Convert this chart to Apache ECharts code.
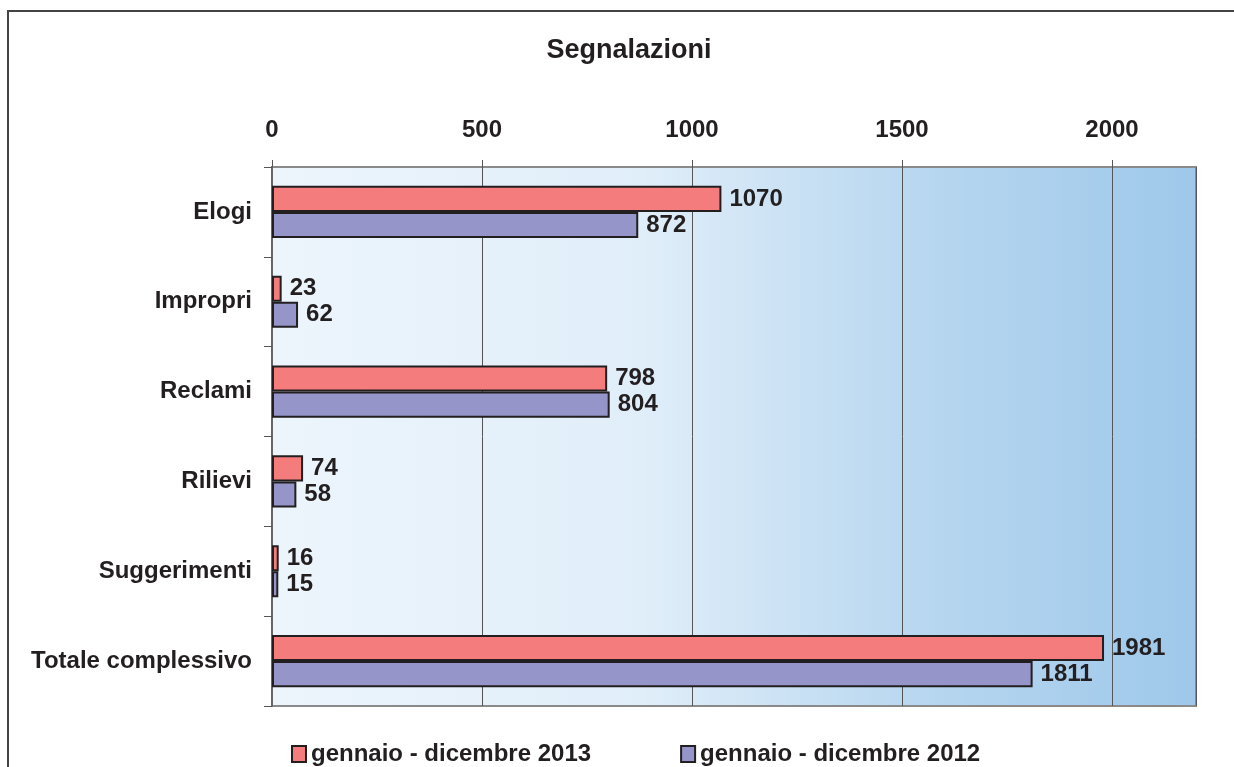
<!DOCTYPE html>
<html>
<head>
<meta charset="utf-8">
<script src="https://cdn.jsdelivr.net/npm/echarts@6/dist/echarts.min.js"></script>
<style>
  html, body { margin: 0; padding: 0; background: #fff; }
  #chart { width: 1234px; height: 767px; }
</style>
</head>
<body>
<div id="chart"></div>
<script>
// dati
var categorie = ["Elogi", "Impropri", "Reclami", "Rilievi", "Suggerimenti", "Totale complessivo"];
var serie2013 = [1070, 23, 798, 74, 16, 1981];
var serie2012 = [872, 62, 804, 58, 15, 1811];
var nomeSerie = ["gennaio - dicembre 2013", "gennaio - dicembre 2012"];

var chart = echarts.init(document.getElementById("chart"));

var labelStyle = {
  show: true,
  position: "right",
  distance: 8,
  color: "#231f20",
  fontFamily: "Liberation Sans, Arial, sans-serif",
  fontWeight: "bold",
  fontSize: 24,
};

var option = {
  animation: false,
  backgroundColor: "#fff",
  textStyle: { fontFamily: "Liberation Sans, Arial, sans-serif" },
  title: {
    text: "Segnalazioni",
    left: 624,
    top: 32,
    textAlign: "center",
    textStyle: {
      fontFamily: "Liberation Sans, Arial, sans-serif",
      fontSize: 27,
      fontWeight: "bold",
      color: "#231f20",
    },
  },
  graphic: [
    {
      type: "polyline",
      shape: { points: [[8, 767], [8, 11], [1234, 11]] },
      style: { stroke: "#444", lineWidth: 2, fill: null },
      silent: true,
    },
  ],
  legend: {
    left: 286,
    top: 737,
    itemWidth: 14,
    itemHeight: 16,
    itemGap: 89,
    icon: "rect",
    data: nomeSerie,
    textStyle: {
      fontFamily: "Liberation Sans, Arial, sans-serif",
      fontSize: 24,
      fontWeight: "bold",
      color: "#231f20",
    },
  },
  grid: {
    left: 272,
    right: 38,
    top: 167,
    bottom: 61,
    show: true,
    borderColor: "#8a8a8a",
    borderWidth: 2,
    backgroundColor: new echarts.graphic.LinearGradient(0, 0, 1, 0, [
      { offset: 0, color: "#edf5fc" },
      { offset: 0.4, color: "#e0eef9" },
      { offset: 0.7, color: "#b8d7f0" },
      { offset: 1, color: "#9ec8ea" },
    ]),
  },
  xAxis: {
    type: "value",
    position: "top",
    min: 0,
    max: 2200,
    interval: 500,
    axisLine: { show: false },
    axisTick: { show: true, length: 7, lineStyle: { color: "#555", width: 1 } },
    axisLabel: {
      margin: 25,
      color: "#231f20",
      fontFamily: "Liberation Sans, Arial, sans-serif",
      fontWeight: "bold",
      fontSize: 24,
      showMaxLabel: false,
      formatter: function (v) {
        return String(v);
      },
    },
    splitLine: { show: true, lineStyle: { color: "#555", width: 1 } },
  },
  yAxis: {
    type: "category",
    inverse: true,
    data: categorie,
    axisLine: { show: true, lineStyle: { color: "#666", width: 2 } },
    axisTick: { show: true, length: 8, lineStyle: { color: "#555", width: 1 } },
    axisLabel: {
      margin: 20,
      color: "#231f20",
      fontFamily: "Liberation Sans, Arial, sans-serif",
      fontWeight: "bold",
      fontSize: 24,
    },
  },
  series: [
    {
      name: nomeSerie[0],
      type: "bar",
      data: serie2013,
      barGap: "0%",
      barCategoryGap: "42%",
      itemStyle: { color: "#f47c7c", borderColor: "#231f20", borderWidth: 2 },
      label: labelStyle,
    },
    {
      name: nomeSerie[1],
      type: "bar",
      data: serie2012,
      itemStyle: { color: "#9595c9", borderColor: "#231f20", borderWidth: 2 },
      label: labelStyle,
    },
  ],
};

chart.setOption(option);
</script>
</body>
</html>
